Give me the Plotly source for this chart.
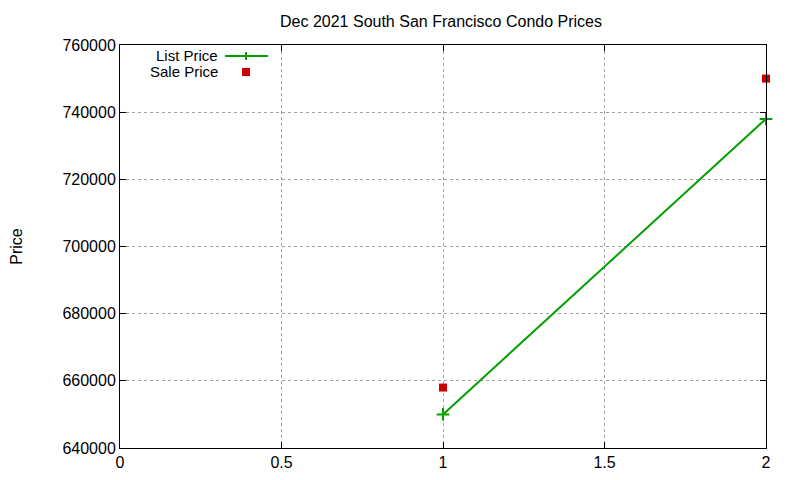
import plotly.graph_objects as go

# data
months = [1, 2]
list_price = [650000, 738000]
sale_price = [658000, 750000]

title = "Dec 2021 South San Francisco Condo Prices"
xticks = [0, 0.5, 1, 1.5, 2]
xtick_text = ["0", "0.5", "1", "1.5", "2"]
yticks = [640000, 660000, 680000, 700000, 720000, 740000, 760000]

green = "#00a000"
red = "#cc0000"
font = "Liberation Sans, Arial, sans-serif"

# page body has an 8px margin, so shift everything back by that
off = 8
L, T, W, H = 120 - off, 45 - off, 646, 403

fig = go.Figure()
fig.add_trace(go.Scatter(x=months, y=list_price, mode="lines+markers", name="List Price",
                         line=dict(color=green, width=2),
                         marker=dict(symbol="cross-thin", size=9, line=dict(color=green, width=2)),
                         cliponaxis=False))
fig.add_trace(go.Scatter(x=months, y=sale_price, mode="markers", name="Sale Price",
                         marker=dict(symbol="square", size=8, color=red),
                         cliponaxis=False))


def px(x):
    return (x - 120) / W


def py(y):
    return 1 - (y - 45) / H


# gnuplot-style key: text right-aligned, sample on the right
key_y = [55, 72]
for i, txt in enumerate(["List Price", "Sale Price"]):
    fig.add_annotation(xref="paper", yref="paper", x=px(219), y=py(key_y[i]),
                       text=txt, showarrow=False, xanchor="right", yanchor="middle",
                       borderpad=0, font=dict(size=15, color="black", family=font))
fig.add_shape(type="line", xref="paper", yref="paper", x0=px(225), x1=px(268),
              y0=py(56), y1=py(56), line=dict(color=green, width=2))
fig.add_shape(type="line", xref="paper", yref="paper", x0=px(246), x1=px(246),
              y0=py(52), y1=py(60), line=dict(color=green, width=2))
fig.add_shape(type="rect", xref="paper", yref="paper", x0=px(242), x1=px(250),
              y0=py(68), y1=py(76), line=dict(width=0), fillcolor=red)

axis_style = dict(showline=True, linecolor="black", linewidth=1, mirror="allticks",
                  ticks="inside", ticklen=6, tickcolor="black", automargin=False,
                  showgrid=True, gridcolor="#a0a0a0", griddash="dot", gridwidth=1,
                  zeroline=False, tickfont=dict(size=16, color="black", family=font))

fig.update_layout(
    width=800, height=480,
    paper_bgcolor="white", plot_bgcolor="white",
    margin=dict(l=L, r=800 - L - W, t=T, b=480 - T - H),
    showlegend=False,
    title=dict(text=title, x=(441 - off) / 800, xanchor="center", y=1 - (21 - off) / 480,
               yanchor="middle", font=dict(size=16, color="black", family=font)),
    xaxis=dict(range=[0, 2], tickvals=xticks, ticktext=xtick_text, **axis_style),
    yaxis=dict(range=[640000, 760000], tickvals=yticks, tickformat="d",
               title=dict(text="Price", font=dict(size=16, color="black", family=font), standoff=40),
               **axis_style),
)

fig.write_html("out.html")
